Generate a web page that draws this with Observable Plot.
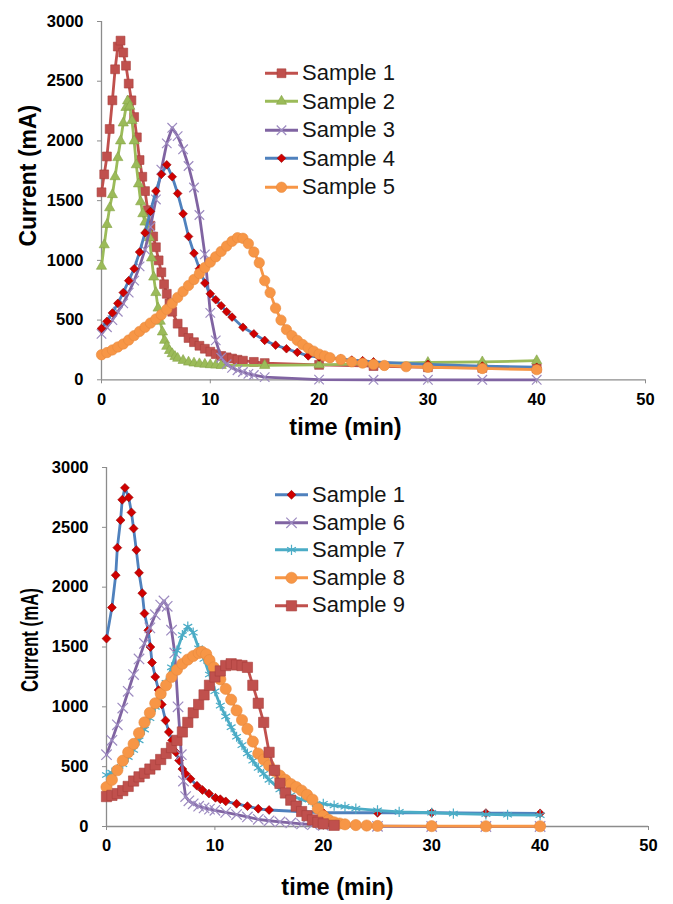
<!DOCTYPE html>
<html>
<head>
<meta charset="utf-8">
<script src="https://cdn.jsdelivr.net/npm/d3@7"></script>
<script src="https://cdn.jsdelivr.net/npm/@observablehq/plot@0.6"></script>
<style>
  html, body { margin: 0; padding: 0; background: #fff; }
  #wrap { position: relative; width: 673px; height: 904px; overflow: hidden; font-family: "Liberation Sans", Arial, sans-serif; }
  .chart { position: absolute; left: 0; }
  .legend { position: absolute; }
  .legend .row { display: flex; align-items: center; }
  .legend .row span { font-size: 22px; color: #151515; white-space: nowrap; }
  .legend svg { display: block; flex: none; }
</style>
</head>
<body>
<div id="wrap"></div>
<script>
// ---------- data ----------
const xTicks = [0, 10, 20, 30, 40, 50];
const yTicks = [0, 500, 1000, 1500, 2000, 2500, 3000];
const topNames = ["Sample 1", "Sample 2", "Sample 3", "Sample 4", "Sample 5"];
const bottomNames = ["Sample 1", "Sample 6", "Sample 7", "Sample 8", "Sample 9"];
const xTitle = "time (min)";
const yTitle = "Current (mA)";

// top panel: [time (min), current (mA)]
const top1 = [[0,1570],[0.25,1720],[0.5,1870],[0.75,2100],[1,2340],[1.25,2600],[1.5,2790],[1.75,2840],[2,2740],[2.25,2630],[2.5,2480],[2.75,2340],[3,2200],[3.25,2030],[3.5,1840],[3.75,1700],[4,1580],[4.25,1420],[4.5,1290],[4.75,1200],[5,1110],[5.25,1000],[5.5,900],[5.75,800],[6,720],[6.25,640],[6.5,570],[7,470],[7.5,400],[8,350],[8.5,315],[9,285],[9.5,260],[10,235],[10.5,215],[11,200],[11.5,188],[12,178],[12.5,168],[13,160],[14,150],[15,140],[20,125],[25,115],[30,105],[35,100],[40,95]];
const top2 = [[0,950],[0.25,1130],[0.5,1300],[0.75,1440],[1,1550],[1.25,1700],[1.5,1860],[1.75,2000],[2,2150],[2.25,2280],[2.4,2335],[2.6,2290],[2.8,2170],[3,2000],[3.2,1800],[3.4,1640],[3.6,1490],[3.8,1390],[4,1320],[4.2,1260],[4.4,1190],[4.6,1020],[4.8,860],[5,730],[5.2,600],[5.4,490],[5.6,400],[5.8,330],[6,280],[6.25,245],[6.5,218],[6.75,195],[7,180],[7.5,162],[8,148],[8.5,140],[9,134],[9.5,130],[10,126],[10.5,123],[11,120],[15,120],[20,125],[25,135],[30,145],[35,150],[40,160]];
const top3 = [[0,385],[0.5,440],[1,500],[1.5,570],[2,640],[2.5,730],[3,830],[3.5,950],[4,1090],[4.5,1280],[5,1510],[5.5,1760],[6,1980],[6.5,2110],[7,2040],[7.5,1930],[8,1790],[8.5,1610],[9,1380],[9.5,1050],[10,560],[10.5,330],[11,185],[11.5,130],[12,100],[12.5,80],[13,65],[13.5,50],[14,40],[15,22],[20,2],[25,0],[30,0],[35,0],[40,0]];
const top4 = [[0,430],[0.5,490],[1,560],[1.5,640],[2,730],[2.5,830],[3,930],[3.5,1070],[4,1230],[4.5,1410],[5,1580],[5.5,1720],[6,1800],[6.5,1700],[7,1560],[7.5,1390],[8,1200],[8.5,1060],[9,930],[9.5,810],[10,720],[10.5,670],[11,620],[11.5,570],[12,525],[13,440],[14,385],[15,330],[16,290],[17,260],[18,230],[19,200],[20,190],[21,185],[22,175],[23,165],[24,160],[25,150],[30,130],[35,115],[40,105]];
const top5 = [[0,210],[0.5,228],[1,250],[1.5,275],[2,300],[2.5,333],[3,370],[3.5,405],[4,440],[4.5,475],[5,510],[5.5,545],[6,590],[6.5,640],[7,690],[7.5,740],[8,790],[8.5,840],[9,890],[9.5,940],[10,985],[10.5,1030],[11,1075],[11.5,1120],[12,1160],[12.5,1190],[13,1185],[13.5,1140],[14,1070],[14.5,980],[15,830],[15.5,730],[16,600],[16.5,500],[17,420],[17.5,370],[18,330],[18.5,295],[19,265],[19.5,240],[20,215],[20.5,200],[21,185],[22,170],[23,150],[24,140],[25,130],[26,120],[28,110],[30,105],[35,95],[40,85]];

// bottom panel
const bot1 = [[0,1570],[0.5,1830],[0.85,2100],[1,2330],[1.3,2560],[1.45,2730],[1.7,2830],[2.05,2750],[2.3,2625],[2.5,2490],[2.75,2310],[3,2120],[3.3,1950],[3.5,1780],[3.85,1640],[4.05,1500],[4.2,1370],[4.5,1250],[4.8,1140],[5.1,1020],[5.45,886],[5.75,790],[6.05,720],[6.4,620],[6.7,552],[7,480],[7.3,440],[7.75,398],[8.35,340],[8.85,305],[9.45,275],[10.05,240],[10.5,228],[11,210],[12,190],[13,170],[14,148],[15,138],[20,115],[25,115],[30,115],[35,112],[40,110]];
const bot6 = [[0,600],[0.5,720],[1,850],[1.5,990],[2,1130],[2.5,1270],[3,1400],[3.5,1530],[4,1660],[4.5,1770],[5,1850],[5.3,1885],[5.6,1840],[6,1640],[6.3,1450],[6.6,1000],[6.9,600],[7.1,380],[7.3,250],[7.6,215],[8,190],[8.5,170],[9,155],[9.5,145],[10,135],[11,118],[12,100],[13,80],[14,60],[15,48],[16,38],[17,30],[18,22],[19,15],[20,10],[25,2],[30,0],[35,0],[40,0]];
const bot7 = [[0,430],[0.5,450],[1,480],[1.5,520],[2,580],[2.5,640],[3,720],[3.5,810],[4,905],[4.5,1000],[5,1100],[5.5,1200],[6,1330],[6.5,1470],[7,1600],[7.5,1670],[8,1620],[8.5,1490],[9,1400],[9.5,1270],[10,1130],[10.5,1010],[11,920],[11.5,830],[12,750],[12.5,680],[13,610],[13.5,550],[14,490],[14.5,440],[15,390],[16,310],[17,260],[18,225],[19,205],[20,190],[21,175],[22,165],[23,150],[25,135],[27,122],[30,115],[32,108],[35,102],[37,98],[40,95]];
const bot8 = [[0,330],[0.5,390],[1,470],[1.5,550],[2,620],[2.5,690],[3,780],[3.5,870],[4,950],[4.5,1030],[5,1110],[5.5,1180],[6,1250],[6.5,1310],[7,1360],[7.5,1395],[8,1425],[8.5,1450],[8.8,1460],[9.2,1440],[9.5,1390],[9.9,1330],[10.5,1230],[11,1150],[11.5,1060],[12,970],[12.5,890],[13,815],[13.5,710],[14,610],[14.5,560],[15,510],[15.5,465],[16,425],[16.5,390],[17,355],[17.5,330],[18,300],[18.5,265],[19,225],[19.5,150],[20,90],[20.5,55],[21,35],[21.5,25],[22,18],[23,12],[24,8],[25,5],[30,3],[35,2],[40,2]];
const bot9 = [[0,250],[0.5,260],[1,275],[1.5,300],[2,335],[2.5,380],[3,415],[3.5,445],[4,480],[4.5,515],[5,560],[5.5,610],[6,660],[6.5,720],[7,790],[7.5,870],[8,950],[8.5,1020],[9,1100],[9.5,1180],[10,1250],[10.5,1300],[11,1345],[11.5,1360],[12,1350],[12.5,1345],[13,1330],[13.5,1180],[14,1030],[14.5,870],[15,620],[15.5,470],[16,360],[16.5,280],[17,220],[17.5,170],[18,125],[18.5,90],[19,55],[19.5,35],[20,22],[21,10]];

// ---------- styles ----------
const RED = "#C0504D", GREEN = "#9BBB59", PURPLE = "#8064A2", PURPLE_MK = "#9d8bc0",
      BLUE = "#4F81BD", ORANGE = "#F79646", TEAL = "#4BACC6", DRED = "#d00000";
const AXIS = "#8c8c8c";
const FONT = "'Liberation Sans', Arial, sans-serif";

const topStyles = [
  {line: RED, symbol: "square", r: 5.0, fill: RED, stroke: "#a8403d", sw: 0.6},
  {line: GREEN, symbol: "triangle", r: 3.8, fill: GREEN, stroke: "#86a548", sw: 0.6},
  {line: PURPLE, symbol: "times", r: 4.4, fill: "none", stroke: PURPLE_MK, sw: 1.2},
  {line: BLUE, symbol: "diamond2", r: 3.9, fill: DRED, stroke: "#900000", sw: 0.6},
  {line: ORANGE, symbol: "circle", r: 5.2, fill: ORANGE, stroke: "#e88a3e", sw: 0.6}
];
const bottomStyles = [
  {line: BLUE, symbol: "diamond2", r: 4.0, fill: DRED, stroke: "#900000", sw: 0.6},
  {line: PURPLE, symbol: "times", r: 4.8, fill: "none", stroke: PURPLE_MK, sw: 1.2},
  {line: TEAL, symbol: "asterisk", r: 4.8, fill: "none", stroke: TEAL, sw: 1.2},
  {line: ORANGE, symbol: "circle", r: 5.6, fill: ORANGE, stroke: "#e88a3e", sw: 0.6},
  {line: RED, symbol: "square", r: 5.8, fill: RED, stroke: "#a8403d", sw: 0.6}
];

const topSeries = [top1, top2, top3, top4, top5].map((data, i) => ({name: topNames[i], data, ...topStyles[i]}));
const bottomSeries = [bot1, bot6, bot7, bot8, bot9].map((data, i) => ({name: bottomNames[i], data, ...bottomStyles[i]}));

const symbolMap = {square: d3.symbolSquare, triangle: d3.symbolTriangle, times: d3.symbolTimes,
  diamond2: d3.symbolDiamond2, circle: d3.symbolCircle, asterisk: d3.symbolAsterisk};

function chart(series, o) {
  const marks = [
    Plot.ruleY([0], {stroke: AXIS, strokeWidth: 1.3}),
    Plot.ruleX([0], {stroke: AXIS, strokeWidth: 1.3}),
    Plot.axisX({ticks: xTicks, tickSize: 4, tickPadding: 9, stroke: AXIS, fill: "#000", label: null, tickFormat: d => String(d)}),
    Plot.axisY({ticks: yTicks, tickSize: 4, tickPadding: 14, stroke: AXIS, fill: "#000", label: null, tickFormat: d => String(d)}),
    Plot.text([xTitle], {text: d => d, frameAnchor: "bottom", textAnchor: "middle", lineAnchor: "middle", dx: o.xtDx, dy: o.xtDy, fontSize: 23.5, fontWeight: "bold", fill: "#000"}),
    Plot.text([yTitle], {text: d => d, frameAnchor: "left", textAnchor: "middle", lineAnchor: "middle", rotate: -90, dx: o.ytDx, dy: o.ytDy, fontSize: 23, fontWeight: "bold", fill: "#000", className: "ytitle"})
  ];
  for (const s of series) {
    const d = s.data.map(([t, c]) => ({t, c}));
    marks.push(Plot.line(d, {x: "t", y: "c", stroke: s.line, strokeWidth: 2.8}));
    marks.push(Plot.dot(d, {x: "t", y: "c", symbol: s.symbol, r: s.r, fill: s.fill, stroke: s.stroke, strokeWidth: s.sw}));
  }
  return Plot.plot({
    width: 673, height: o.height,
    marginLeft: o.ml, marginRight: o.mr, marginTop: o.mt, marginBottom: o.mb,
    x: {domain: [0, 50]},
    y: {domain: [0, 3000]},
    style: {fontFamily: FONT, fontSize: "16.5px", fontWeight: "bold", background: "#fff", color: "#000"},
    marks
  });
}

function legend(series, o) {
  const div = d3.select("#wrap").append("div").attr("class", "legend")
    .style("left", o.left + "px").style("top", o.top + "px");
  for (const s of series) {
    const row = div.append("div").attr("class", "row").style("height", o.rowH + "px");
    const svg = row.append("svg").attr("width", o.lineW + o.gap).attr("height", o.rowH);
    svg.append("line").attr("x1", 0).attr("x2", o.lineW).attr("y1", o.rowH / 2).attr("y2", o.rowH / 2)
      .attr("stroke", s.line).attr("stroke-width", 3);
    svg.append("path")
      .attr("transform", `translate(${o.lineW / 2},${o.rowH / 2})`)
      .attr("d", d3.symbol(symbolMap[s.symbol], Math.PI * s.r * s.r)())
      .attr("fill", s.fill).attr("stroke", s.stroke).attr("stroke-width", s.sw);
    row.append("span").text(s.name);
  }
}

const wrap = document.getElementById("wrap");

const topChart = chart(topSeries, {height: 445, ml: 101, mr: 28, mt: 21, mb: 65.7, xtDx: -28, xtDy: 48, ytDx: -73, ytDy: -25});
const topDiv = document.createElement("div");
topDiv.className = "chart"; topDiv.style.top = "0px";
topDiv.appendChild(topChart); wrap.appendChild(topDiv);

const botChart = chart(bottomSeries, {height: 459, ml: 106, mr: 25, mt: 22, mb: 78, xtDx: -40, xtDy: 61, ytDx: -76, ytDy: -7});
const botDiv = document.createElement("div");
botDiv.className = "chart"; botDiv.style.top = "445px";
botDiv.appendChild(botChart); wrap.appendChild(botDiv);
// the lower panel's y title is horizontally compressed in the original
d3.select(botChart).select(".ytitle text").attr("textLength", 104).attr("lengthAdjust", "spacingAndGlyphs");

legend(topSeries, {left: 265, top: 58.75, rowH: 28.5, lineW: 33, gap: 4});
legend(bottomSeries, {left: 275, top: 481.2, rowH: 27.6, lineW: 33, gap: 4});
</script>
</body>
</html>
